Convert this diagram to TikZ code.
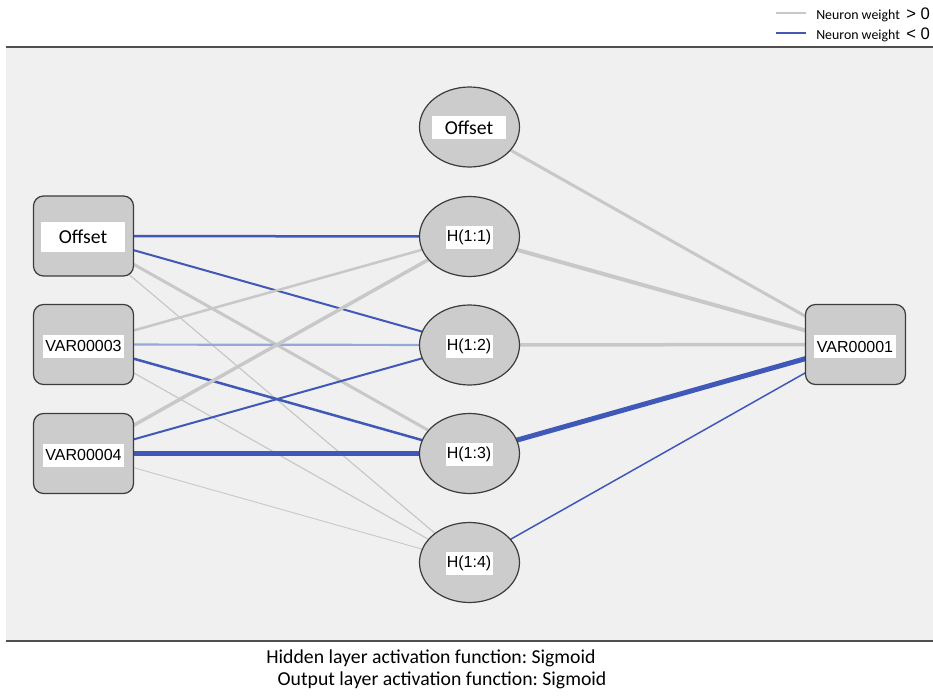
\documentclass[tikz,border=0pt]{standalone}
\usepackage{fontspec}
\setmainfont{Liberation Sans}
\newfontfamily\calfont{Carlito}
\usetikzlibrary{shapes.geometric}
\pgfdeclarelayer{bg}
\pgfdeclarelayer{edges}
\pgfsetlayers{bg,edges,main}
\definecolor{panel}{RGB}{240,240,240}
\definecolor{nodefill}{RGB}{204,204,204}
\definecolor{nodeline}{RGB}{60,60,60}
\definecolor{posgray}{RGB}{200,200,200}
\definecolor{negblue}{RGB}{64,88,184}
\definecolor{lightneg}{RGB}{150,168,214}
\definecolor{rulecol}{RGB}{80,80,80}
\frenchspacing
\begin{document}
\begin{tikzpicture}[x=0.75pt,y=-0.75pt,
  box/.style={draw=nodeline, line width=0.9pt, fill=nodefill, rounded corners=7.5pt,
    minimum width=75pt, minimum height=60pt, inner sep=0pt},
  neuron/.style={ellipse, draw=nodeline, line width=0.9pt, fill=nodefill,
    minimum width=75pt, minimum height=60pt, inner sep=0pt},
  lab/.style={fill=white, inner sep=0pt, minimum height=17.25pt,
    font=\fontsize{12}{14}\selectfont},
  offlab/.style={lab, font=\calfont\fontsize{14.8}{17}\selectfont},
  posw/.style={draw=posgray, line cap=butt},
  negw/.style={draw=negblue, line cap=butt},
  lnegw/.style={draw=lightneg, line cap=butt},
  wt/.style={line width=#1*0.75pt},
  capt/.style={font=\calfont\fontsize{14.8}{17}\selectfont, anchor=base},
  legtext/.style={anchor=base west, inner sep=0pt, font=\calfont\fontsize{10.4}{12}\selectfont},
  legsign/.style={anchor=base west, inner sep=0pt, font=\fontsize{12.5}{14}\selectfont}
]
\useasboundingbox (0,0) rectangle (933,696);
\begin{pgfonlayer}{bg}
  \fill[panel] (6,47) rectangle (933,641);
  \draw[rulecol, line width=1.5pt] (6,47) -- (933,47);
  \draw[rulecol, line width=1.5pt] (6,641) -- (933,641);
\end{pgfonlayer}

% input layer
\node[box] (i0) at (83.5,236) {};
\node[box] (i3) at (83.5,344.5) {};
\node[box] (i4) at (83.5,453.5) {};
% hidden layer
\node[neuron] (h0) at (469.5,127) {};
\node[neuron] (h1) at (469.5,236.5) {};
\node[neuron] (h2) at (469.5,345) {};
\node[neuron] (h3) at (469.5,453.5) {};
\node[neuron] (h4) at (469.5,562.5) {};
% output
\node[box] (o1) at (855.5,344.5) {};

% labels
\node[offlab, minimum width=84*0.75pt, minimum height=30*0.75pt] (i0l) at (83,237) {Offset};
\node[lab, minimum width=81*0.75pt] (i3l) at (83.5,346) {VAR00003};
\node[lab, minimum width=81*0.75pt] (i4l) at (83.5,455) {VAR00004};
\node[offlab, minimum width=74*0.75pt] (h0l) at (469,127.5) {Offset};
\node[lab, minimum width=47*0.75pt] (h1l) at (469,237) {H(1:1)};
\node[lab, minimum width=47*0.75pt] (h2l) at (469,346) {H(1:2)};
\node[lab, minimum width=47*0.75pt] (h3l) at (469,454.5) {H(1:3)};
\node[lab, minimum width=47*0.75pt] (h4l) at (469,563.5) {H(1:4)};
\node[lab, minimum width=82*0.75pt] (o1l) at (855,346.5) {VAR00001};

% connections
\begin{pgfonlayer}{edges}
  \draw[negw, wt=2.5] (i0.center) -- (h1.center);
  \draw[negw, wt=2] (i0.center) -- (h2.center);
  \draw[posw, wt=3] (i0.center) -- (h3.center);
  \draw[posw, wt=1.2] (i0.center) -- (h4.center);
  \draw[posw, wt=2.5] (i3.center) -- (h1.center);
  \draw[lnegw, wt=2.2] (i3.center) -- (h2.center);
  \draw[negw, wt=2.5] (i3.center) -- (h3.center);
  \draw[posw, wt=1.2] (i3.center) -- (h4.center);
  \draw[posw, wt=3.5] (i4.center) -- (h1.center);
  \draw[negw, wt=2] (i4.center) -- (h2.center);
  \draw[negw, wt=5] (i4.center) -- (h3.center);
  \draw[posw, wt=0.9] (i4.center) -- (h4.center);
  \draw[posw, wt=3] (h0.center) -- (o1.center);
  \draw[posw, wt=4] (h1.center) -- (o1.center);
  \draw[posw, wt=3.5] (h2.center) -- (o1.center);
  \draw[negw, wt=5] (h3.center) -- (o1.center);
  \draw[negw, wt=1.5] (h4.center) -- (o1.center);
\end{pgfonlayer}

% legend
\coordinate (lg1a) at (776,13);
\coordinate (lg1b) at (806,13);
\coordinate (lg2a) at (776,33);
\coordinate (lg2b) at (806,33);
\draw[posw, wt=2] (lg1a) -- (lg1b);
\draw[negw, wt=2] (lg2a) -- (lg2b);
\node[legtext] (leg1) at (816,19.5) {Neuron weight};
\node[legsign] (leg1s) at (906,19.5) {> 0};
\node[legtext] (leg2) at (816,39.5) {Neuron weight};
\node[legsign] (leg2s) at (906,39.5) {< 0};

% captions
\node[capt] (cap1) at (431,663) {Hidden layer activation function: Sigmoid};
\node[capt] (cap2) at (442,685) {Output layer activation function: Sigmoid};
\end{tikzpicture}
\end{document}
